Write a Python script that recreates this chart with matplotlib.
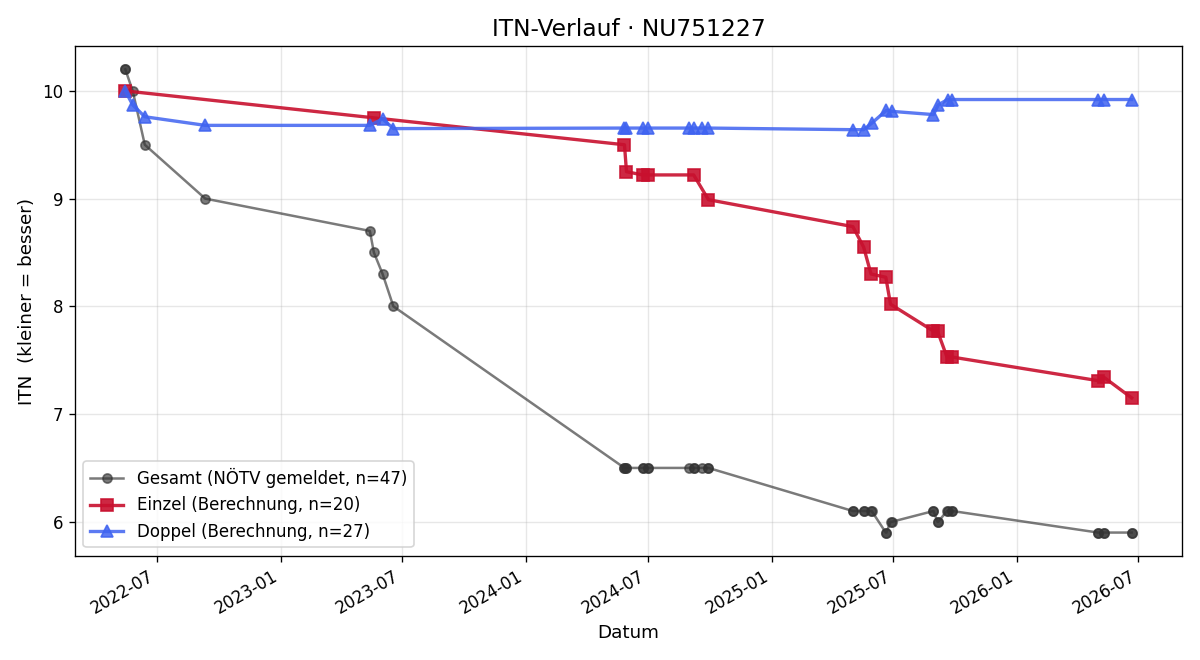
import matplotlib
matplotlib.use("Agg")
import matplotlib.pyplot as plt
import matplotlib.dates as mdates
import pandas as pd

# Einzel (singles) - ITN after each match
einzel_dates = ["2022-05-15", "2023-05-20",
                "2024-05-27", "2024-05-30", "2024-06-23", "2024-07-01", "2024-09-07", "2024-09-29",
                "2025-05-02", "2025-05-18", "2025-05-29", "2025-06-20", "2025-06-27",
                "2025-08-30", "2025-09-05", "2025-09-19", "2025-09-26",
                "2026-05-02", "2026-05-11", "2026-06-21"]
einzel_itn = [10.0, 9.75,
              9.5, 9.25, 9.22, 9.22, 9.22, 8.99,
              8.74, 8.55, 8.30, 8.27, 8.02,
              7.77, 7.77, 7.53, 7.53,
              7.31, 7.34, 7.15]

# Doppel (doubles)
doppel_dates = ["2022-05-15", "2022-05-26", "2022-06-13", "2022-09-11",
                "2023-05-14", "2023-06-02", "2023-06-18",
                "2024-05-27", "2024-05-30", "2024-06-23", "2024-07-01",
                "2024-08-31", "2024-09-08", "2024-09-20", "2024-09-29",
                "2025-05-02", "2025-05-18", "2025-05-30", "2025-06-21", "2025-06-29",
                "2025-08-30", "2025-09-06", "2025-09-20", "2025-09-27",
                "2026-05-02", "2026-05-11", "2026-06-21"]
doppel_itn = [10.0, 9.87, 9.76, 9.68,
              9.68, 9.74, 9.65,
              9.655, 9.655, 9.655, 9.655,
              9.655, 9.655, 9.655, 9.655,
              9.64, 9.64, 9.70, 9.82, 9.81,
              9.78, 9.87, 9.92, 9.92,
              9.92, 9.92, 9.92]

# Gesamt (as reported by NÖTV), one value per match
gesamt_dates = ["2022-05-15", "2022-05-15", "2022-05-26", "2022-06-13", "2022-09-11",
                "2023-05-14", "2023-05-20", "2023-06-02", "2023-06-18",
                "2024-05-27", "2024-05-27", "2024-05-30", "2024-05-30",
                "2024-06-23", "2024-06-23", "2024-07-01", "2024-07-01",
                "2024-08-31", "2024-09-07", "2024-09-08", "2024-09-20",
                "2024-09-29", "2024-09-29",
                "2025-05-02", "2025-05-02", "2025-05-18", "2025-05-18",
                "2025-05-29", "2025-05-30", "2025-06-20", "2025-06-21",
                "2025-06-27", "2025-06-29", "2025-08-30", "2025-08-30",
                "2025-09-05", "2025-09-06", "2025-09-19", "2025-09-20",
                "2025-09-26", "2025-09-27",
                "2026-05-02", "2026-05-02", "2026-05-11", "2026-05-11",
                "2026-06-21", "2026-06-21"]
gesamt_itn = [10.2, 10.2, 10.0, 9.5, 9.0,
              8.7, 8.5, 8.3, 8.0,
              6.5, 6.5, 6.5, 6.5,
              6.5, 6.5, 6.5, 6.5,
              6.5, 6.5, 6.5, 6.5,
              6.5, 6.5,
              6.1, 6.1, 6.1, 6.1,
              6.1, 6.1, 5.9, 5.9,
              6.0, 6.0, 6.1, 6.1,
              6.0, 6.0, 6.1, 6.1,
              6.1, 6.1,
              5.9, 5.9, 5.9, 5.9,
              5.9, 5.9]

fig, ax = plt.subplots(figsize=(10, 5.5), dpi=120)

ax.plot(pd.to_datetime(gesamt_dates), gesamt_itn, marker="o", markersize=5.5,
        linewidth=1.5, color="#333333", alpha=0.65,
        label="Gesamt (NÖTV gemeldet, n=%d)" % len(gesamt_itn))
ax.plot(pd.to_datetime(einzel_dates), einzel_itn, marker="s", markersize=7,
        linewidth=2, color="#c8102e", alpha=0.9,
        label="Einzel (Berechnung, n=%d)" % len(einzel_itn))
ax.plot(pd.to_datetime(doppel_dates), doppel_itn, marker="^", markersize=7,
        linewidth=2, color="#3f63f0", alpha=0.85,
        label="Doppel (Berechnung, n=%d)" % len(doppel_itn))

ax.set_title("ITN-Verlauf · NU751227", fontsize=14)
ax.set_xlabel("Datum", fontsize=11)
ax.set_ylabel("ITN  (kleiner = besser)", fontsize=11)
ax.grid(True, alpha=0.3)
ax.xaxis.set_major_locator(mdates.MonthLocator(bymonth=[1, 7]))
ax.xaxis.set_major_formatter(mdates.DateFormatter("%Y-%m"))
ax.legend(loc="lower left", fontsize=10)
fig.autofmt_xdate()

plt.subplots_adjust(left=0.0625, right=0.985, top=0.93, bottom=0.158)
plt.savefig("out.png", dpi=120)
